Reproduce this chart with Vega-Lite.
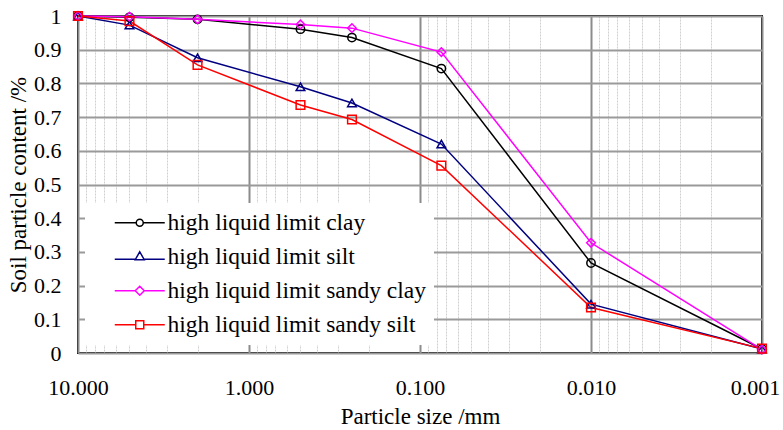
{
  "$schema": "https://vega.github.io/schema/vega-lite/v6.json",
  "width": 684,
  "height": 337,
  "autosize": {"type": "none"},
  "padding": {"left": 78, "top": 16, "right": 21, "bottom": 77},
  "background": "white",
  "config": {
    "font": "Liberation Serif",
    "view": {"stroke": "#000000", "strokeWidth": 2}
  },
  "data": {
    "values": [
      {"series": "high liquid limit clay", "size": 10, "content": 1.0},
      {"series": "high liquid limit clay", "size": 5, "content": 0.996},
      {"series": "high liquid limit clay", "size": 2, "content": 0.99},
      {"series": "high liquid limit clay", "size": 0.5, "content": 0.961},
      {"series": "high liquid limit clay", "size": 0.25, "content": 0.936},
      {"series": "high liquid limit clay", "size": 0.075, "content": 0.844},
      {"series": "high liquid limit clay", "size": 0.01, "content": 0.267},
      {"series": "high liquid limit clay", "size": 0.001, "content": 0.012},
      {"series": "high liquid limit silt", "size": 10, "content": 1.0},
      {"series": "high liquid limit silt", "size": 5, "content": 0.973},
      {"series": "high liquid limit silt", "size": 2, "content": 0.876},
      {"series": "high liquid limit silt", "size": 0.5, "content": 0.79},
      {"series": "high liquid limit silt", "size": 0.25, "content": 0.742},
      {"series": "high liquid limit silt", "size": 0.075, "content": 0.62},
      {"series": "high liquid limit silt", "size": 0.01, "content": 0.145},
      {"series": "high liquid limit silt", "size": 0.001, "content": 0.012},
      {"series": "high liquid limit sandy clay", "size": 10, "content": 1.0},
      {"series": "high liquid limit sandy clay", "size": 5, "content": 0.998},
      {"series": "high liquid limit sandy clay", "size": 2, "content": 0.99},
      {"series": "high liquid limit sandy clay", "size": 0.5, "content": 0.975},
      {"series": "high liquid limit sandy clay", "size": 0.25, "content": 0.964},
      {"series": "high liquid limit sandy clay", "size": 0.075, "content": 0.893},
      {"series": "high liquid limit sandy clay", "size": 0.01, "content": 0.327},
      {"series": "high liquid limit sandy clay", "size": 0.001, "content": 0.01},
      {"series": "high liquid limit sandy silt", "size": 10, "content": 1.0},
      {"series": "high liquid limit sandy silt", "size": 5, "content": 0.985},
      {"series": "high liquid limit sandy silt", "size": 2, "content": 0.855},
      {"series": "high liquid limit sandy silt", "size": 0.5, "content": 0.736},
      {"series": "high liquid limit sandy silt", "size": 0.25, "content": 0.693},
      {"series": "high liquid limit sandy silt", "size": 0.075, "content": 0.556},
      {"series": "high liquid limit sandy silt", "size": 0.01, "content": 0.135},
      {"series": "high liquid limit sandy silt", "size": 0.001, "content": 0.013}
    ]
  },
  "encoding": {
    "x": {
      "field": "size",
      "type": "quantitative",
      "scale": {"type": "log", "domain": [0.001, 10], "reverse": true, "nice": false},
      "axis": {
        "title": "Particle size /mm",
        "titleFont": "Liberation Serif",
        "titleFontSize": 23,
        "titleFontWeight": "normal",
        "titleColor": "#000000",
        "titlePadding": 7,
        "values": [10, 9, 8, 7, 6, 5, 4, 3, 2, 1, 0.9, 0.8, 0.7, 0.6, 0.5, 0.4, 0.3, 0.2, 0.1, 0.09, 0.08, 0.07, 0.06, 0.05, 0.04, 0.03, 0.02, 0.01, 0.009, 0.008, 0.007, 0.006, 0.005, 0.004, 0.003, 0.002, 0.001],
        "format": ".3f",
        "labelExpr": "abs(log(datum.value)/LN10 - round(log(datum.value)/LN10)) < 0.001 ? datum.label : ''",
        "labelFont": "Liberation Serif",
        "labelFontSize": 22,
        "labelColor": "#000000",
        "labelPadding": 24,
        "labelOffset": {"condition": {"test": "datum.value < 0.0015", "value": -7}, "value": 0},
        "labelFlush": false,
        "labelOverlap": false,
        "labelBound": false,
        "domain": false,
        "ticks": false,
        "grid": true,
        "gridColor": {"condition": {"test": "abs(log(datum.value)/LN10 - round(log(datum.value)/LN10)) < 0.001", "value": "#8c8c8c"}, "value": "#cfcfcf"},
        "gridWidth": {"condition": {"test": "abs(log(datum.value)/LN10 - round(log(datum.value)/LN10)) < 0.001", "value": 2}, "value": 1},
        "gridDash": {"condition": {"test": "abs(log(datum.value)/LN10 - round(log(datum.value)/LN10)) < 0.001", "value": [1, 0]}, "value": [2, 1]}
      }
    },
    "y": {
      "field": "content",
      "type": "quantitative",
      "scale": {"domain": [0, 1], "nice": false, "zero": true},
      "axis": {
        "title": "Soil particle content /%",
        "titleFont": "Liberation Serif",
        "titleFontSize": 23,
        "titleFontWeight": "normal",
        "titleColor": "#000000",
        "titlePadding": 3,
        "values": [0, 0.1, 0.2, 0.3, 0.4, 0.5, 0.6, 0.7, 0.8, 0.9, 1],
        "format": ".1~f",
        "labelFont": "Liberation Serif",
        "labelFontSize": 22,
        "labelColor": "#000000",
        "labelPadding": 17,
        "domain": false,
        "ticks": false,
        "grid": true,
        "gridColor": "#9a9a9a",
        "gridWidth": 2
      }
    },
    "color": {
      "field": "series",
      "type": "nominal",
      "scale": {
        "domain": ["high liquid limit clay", "high liquid limit silt", "high liquid limit sandy clay", "high liquid limit sandy silt"],
        "range": ["#000000", "#000080", "#ff00ff", "#ff0000"]
      },
      "legend": {
        "orient": "none",
        "legendX": 7,
        "legendY": 187,
        "title": null,
        "fillColor": "#ffffff",
        "padding": 8,
        "labelFont": "Liberation Serif",
        "labelFontSize": 23.5,
        "labelColor": "#000000",
        "labelLimit": 600,
        "symbolSize": 100,
        "symbolStrokeWidth": 1.5,
        "symbolOffset": 35,
        "labelOffset": 16,
        "rowPadding": 9
      }
    }
  },
  "layer": [
    {
      "mark": {"type": "line", "strokeWidth": 1.5},
      "encoding": {}
    },
    {
      "transform": [{"filter": "datum.series === 'high liquid limit clay'"}],
      "mark": {"type": "point", "shape": "circle", "filled": false, "strokeWidth": 1.5, "size": 70, "opacity": 1},
      "encoding": {}
    },
    {
      "transform": [{"filter": "datum.series === 'high liquid limit silt'"}],
      "mark": {"type": "point", "shape": "triangle-up", "filled": false, "strokeWidth": 1.5, "size": 75, "opacity": 1},
      "encoding": {}
    },
    {
      "transform": [{"filter": "datum.series === 'high liquid limit sandy clay'"}],
      "mark": {"type": "point", "shape": "diamond", "filled": false, "strokeWidth": 1.5, "size": 75, "opacity": 1},
      "encoding": {}
    },
    {
      "transform": [{"filter": "datum.series === 'high liquid limit sandy silt'"}],
      "mark": {"type": "point", "shape": "square", "filled": false, "strokeWidth": 1.5, "size": 75, "opacity": 1},
      "encoding": {}
    },
    {
      "transform": [{"filter": "false"}],
      "mark": {"type": "point", "filled": false, "strokeWidth": 1.5, "size": 100, "opacity": 1},
      "encoding": {
        "shape": {
          "field": "series",
          "type": "nominal",
          "scale": {
            "domain": ["high liquid limit clay", "high liquid limit silt", "high liquid limit sandy clay", "high liquid limit sandy silt"],
            "range": [
              "M-5,0H-0.7M0.7,0H5M0.7,0A0.7,0.7,0,1,1,-0.7,0A0.7,0.7,0,1,1,0.7,0",
              "M-5,0.5H-0.9M0.9,0.5H5M0,-1L0.9,0.6L-0.9,0.6Z",
              "M-5,0H-0.9M0.9,0H5M0,-0.9L0.9,0L0,0.9L-0.9,0Z",
              "M-5,0H-0.8M0.8,0H5M-0.8,-0.8H0.8V0.8H-0.8Z"
            ]
          },
          "legend": {
            "orient": "none",
            "legendX": 7,
            "legendY": 187,
            "title": null,
            "fillColor": "#ffffff",
            "padding": 8,
            "labelFont": "Liberation Serif",
            "labelFontSize": 23.5,
            "labelColor": "#000000",
            "labelLimit": 600,
            "symbolSize": 100,
            "symbolStrokeWidth": 1.5,
            "symbolOffset": 35,
            "labelOffset": 16,
            "rowPadding": 9
          }
        }
      }
    }
  ]
}
